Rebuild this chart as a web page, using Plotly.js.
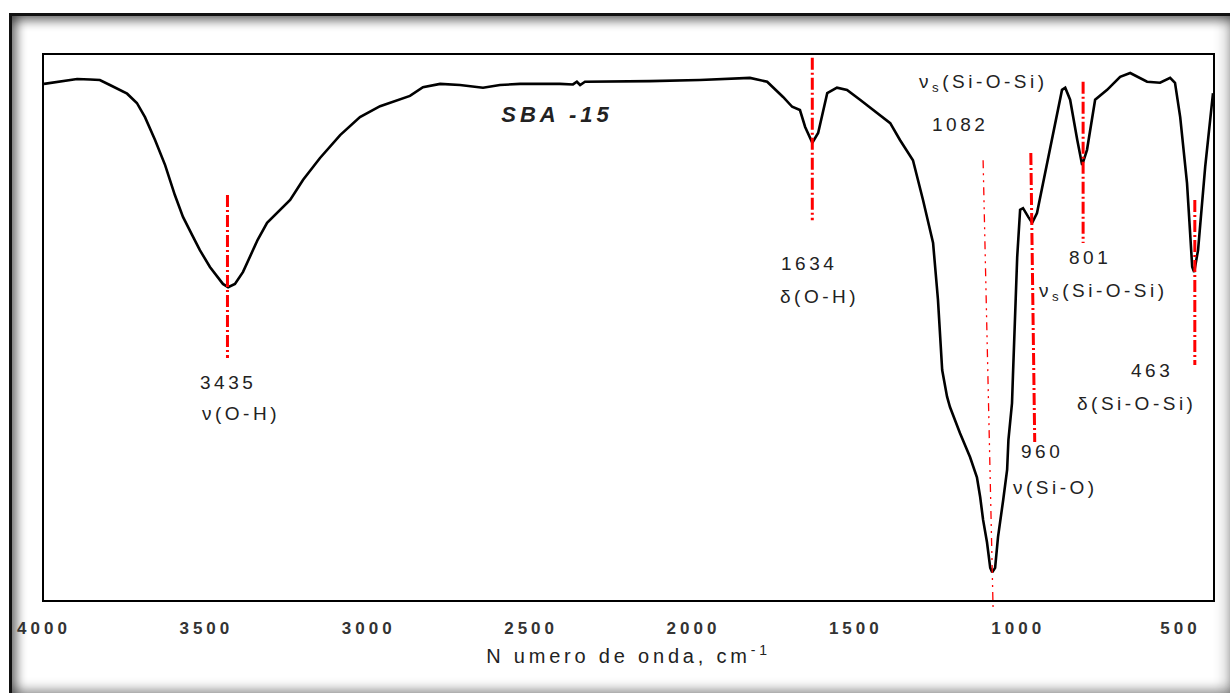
<!DOCTYPE html>
<html>
<head>
<meta charset="utf-8">
<script src="https://cdn.plot.ly/plotly-3.0.1.min.js"></script>
<style>
html,body{margin:0;padding:0;background:#fff;width:1230px;height:693px;overflow:hidden;}
#frame{position:absolute;left:9px;top:13px;width:1221px;height:680px;box-sizing:border-box;
  border-left:3px solid #111;border-top:3px solid #111;
  box-shadow: inset 0 10px 10px -4px rgba(0,0,0,0.45), inset 10px 0 10px -4px rgba(0,0,0,0.45),
              inset -10px 0 12px -4px rgba(0,0,0,0.18), inset 0 -10px 10px -4px rgba(0,0,0,0.25);}
#chart{position:absolute;left:0;top:0;width:1230px;height:693px;}
.xtick text{letter-spacing:4px;}
.g-xtitle text{letter-spacing:3.8px;}
.annotation-text{letter-spacing:3.5px;}
.annotation[data-index="0"] .annotation-text{letter-spacing:4px;}
</style>
</head>
<body>
<div id="frame"></div>
<div id="chart"></div>
<script>
// FTIR spectrum of SBA-15 (wavenumber in cm-1, transmittance in arbitrary units)
const wavenumber = [4000,3960,3898,3858,3828,3797,3766,3744,3714,3689,3658,3627,3597,3572,3544,3520,3489,3467,3449,3433,3412,3387,3366,3342,3313,3282,3242,3202,3150,3088,3027,2965,2904,2873,2833,2780,2719,2672,2648,2596,2534,2411,2371,2359,2349,2334,2288,2134,1980,1826,1773,1724,1696,1672,1656,1634,1616,1588,1558,1527,1487,1434,1394,1364,1324,1293,1262,1247,1234,1219,1210,1179,1148,1127,1117,1108,1096,1086,1080,1071,1062,1046,1034,1030,1019,1016,1009,1003,994,985,969,957,942,923,892,865,855,840,818,803,788,763,726,686,655,630,603,563,532,517,501,480,464,458,446,424,409,400];
const transmittance = [94.7,95.1,95.6,95.5,95.4,94.5,93.6,92.9,91.2,88.6,84.4,79.8,74.3,70.3,67.0,64.2,61.1,59.3,58.0,57.4,58.0,60.2,62.9,66.1,69.2,71.0,73.4,77.1,81.1,85.3,88.6,90.6,91.8,92.5,94.1,94.7,94.5,94.1,94.0,94.5,94.7,94.7,94.6,95.1,94.5,95.1,95.1,95.2,95.4,95.8,95.1,92.3,90.5,89.9,86.8,83.9,85.7,93.0,94.0,93.6,91.8,89.4,87.5,84.4,80.7,73.4,65.5,55.1,42.2,37.3,35.4,30.6,26.2,22.5,18.9,14.7,10.6,5.9,5.1,5.9,11.6,18.4,23.9,29.4,36.1,41.3,55.1,62.9,71.6,71.9,70.3,69.2,71.0,76.5,85.7,93.6,94.0,91.8,84.4,79.8,82.6,91.8,93.6,96.0,96.7,96.0,95.1,94.9,95.8,94.9,88.6,76.5,61.1,60.2,64.2,79.5,88.6,93.0];

const xTicks = [4000,3500,3000,2500,2000,1500,1000,500];

// Band assignments: label texts and their positions
const bandNumbers = ["3435","1634","1082","960","801","463"];
const bandNumberX = [3433,1644,1179,926,778,587];
const bandNumberY = [40.0,61.8,87.2,27.2,62.9,42.2];
const bandNames = ["ν(O-H)","δ(O-H)","ν<sub>s</sub>(Si-O-Si)","ν(Si-O)","ν<sub>s</sub>(Si-O-Si)","δ(Si-O-Si)"];
const bandNameX = [3393,1613,1108,886,736,637];
const bandNameY = [34.3,55.6,94.9,20.7,56.5,36.1];

// Marker lines (dash-dot) at each band
const lineTopX = [3435,1634,1108,961,800,456];
const lineBotX = [3435,1634,1077,949,800,456];
const lineTopY = [74.3,99.5,80.7,82.0,95.1,73.4];
const lineBotY = [44.4,69.7,-2.2,29.0,65.5,43.1];
const lineThin = [false,false,true,false,false,false];

const sampleName = "SBA -15";

const annFont = {family:"Liberation Sans, Arial, sans-serif", size:19, color:"#222"};
const annotations = [{
  text: sampleName, x: 2420, y: 89.0, xref:"x", yref:"y", showarrow:false,
  font:{family:"Liberation Sans, Arial, sans-serif", size:22, color:"#222", weight:"bold", style:"italic"}
}];
bandNumbers.forEach((t,i)=>{
  annotations.push({text:t, x:bandNumberX[i], y:bandNumberY[i], xref:"x", yref:"y", showarrow:false, font:annFont});
  annotations.push({text:bandNames[i], x:bandNameX[i], y:bandNameY[i], xref:"x", yref:"y", showarrow:false, font:annFont});
});

const shapes = lineTopX.map((xt,i)=>({
  type:"line", xref:"x", yref:"paper",
  x0:xt, x1:lineBotX[i], y0:lineTopY[i]/100, y1:lineBotY[i]/100,
  line:{color:"#ff0000", width: lineThin[i] ? 1.3 : 3, dash: lineThin[i] ? "8px,5px,2px,5px,2px,5px" : "12px,3px,2px,3px"}
}));

const trace = {
  x: wavenumber, y: transmittance, type:"scatter", mode:"lines",
  line:{color:"#000", width:2.6}, hoverinfo:"skip"
};

const layout = {
  width:1230, height:693,
  margin:{l:44, r:17, t:55, b:93},
  paper_bgcolor:"rgba(0,0,0,0)", plot_bgcolor:"#fff",
  showlegend:false,
  xaxis:{
    range:[4000,400], tickvals:xTicks, ticktext:xTicks.map(String),
    ticks:"", showgrid:false, zeroline:false,
    showline:true, mirror:true, linecolor:"#000", linewidth:2,
    ticklabelstandoff:12,
    tickfont:{family:"Liberation Sans, Arial, sans-serif", size:17, color:"#333", weight:"bold"},
    title:{text:"N umero de onda, cm<sup>-1</sup>", standoff:12,
      font:{family:"Liberation Sans, Arial, sans-serif", size:20, color:"#222"}}
  },
  yaxis:{
    range:[0,100], showticklabels:false, ticks:"", showgrid:false, zeroline:false,
    showline:true, mirror:true, linecolor:"#000", linewidth:2
  },
  shapes: shapes,
  annotations: annotations
};

Plotly.newPlot("chart", [trace], layout, {displayModeBar:false, staticPlot:true});
</script>
</body>
</html>
